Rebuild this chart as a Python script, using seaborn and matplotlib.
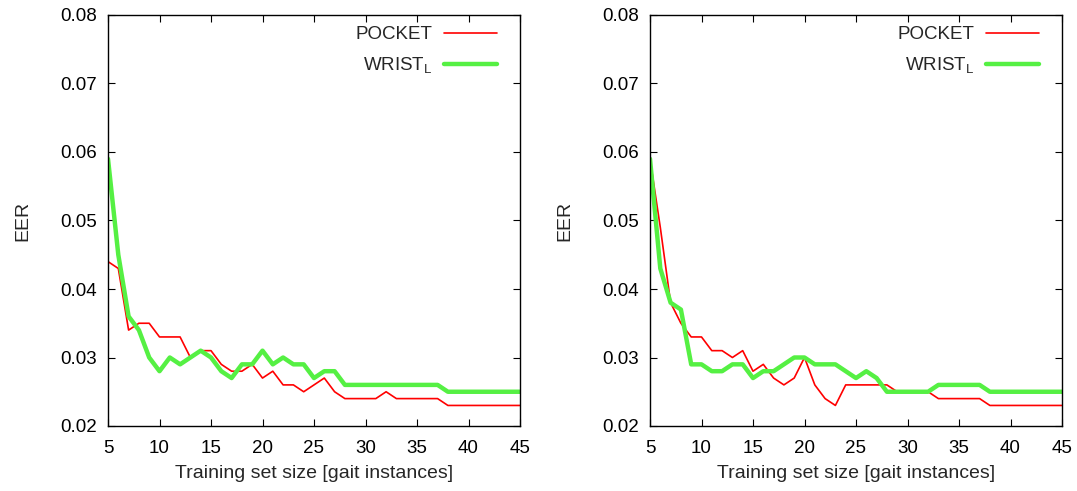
"""
EER vs training set size for POCKET and WRIST_L, two panels side by side
"""

import pandas as pd
import matplotlib.pyplot as plt
import seaborn as sns

# training set sizes
sizes = list(range(5, 46))

# left panel
pocket_left = [0.044, 0.043, 0.034, 0.035, 0.035, 0.033, 0.033, 0.033, 0.030, 0.031,
               0.031, 0.029, 0.028, 0.028, 0.029, 0.027, 0.028, 0.026, 0.026, 0.025,
               0.026, 0.027, 0.025, 0.024, 0.024, 0.024, 0.024, 0.025, 0.024, 0.024,
               0.024, 0.024, 0.024, 0.023, 0.023, 0.023, 0.023, 0.023, 0.023, 0.023,
               0.023]
wrist_left = [0.059, 0.045, 0.036, 0.034, 0.030, 0.028, 0.030, 0.029, 0.030, 0.031,
              0.030, 0.028, 0.027, 0.029, 0.029, 0.031, 0.029, 0.030, 0.029, 0.029,
              0.027, 0.028, 0.028, 0.026, 0.026, 0.026, 0.026, 0.026, 0.026, 0.026,
              0.026, 0.026, 0.026, 0.025, 0.025, 0.025, 0.025, 0.025, 0.025, 0.025,
              0.025]

# right panel
pocket_right = [0.059, 0.049, 0.038, 0.035, 0.033, 0.033, 0.031, 0.031, 0.030, 0.031,
                0.028, 0.029, 0.027, 0.026, 0.027, 0.030, 0.026, 0.024, 0.023, 0.026,
                0.026, 0.026, 0.026, 0.026, 0.025, 0.025, 0.025, 0.025, 0.024, 0.024,
                0.024, 0.024, 0.024, 0.023, 0.023, 0.023, 0.023, 0.023, 0.023, 0.023,
                0.023]
wrist_right = [0.059, 0.043, 0.038, 0.037, 0.029, 0.029, 0.028, 0.028, 0.029, 0.029,
               0.027, 0.028, 0.028, 0.029, 0.030, 0.030, 0.029, 0.029, 0.029, 0.028,
               0.027, 0.028, 0.027, 0.025, 0.025, 0.025, 0.025, 0.025, 0.026, 0.026,
               0.026, 0.026, 0.026, 0.025, 0.025, 0.025, 0.025, 0.025, 0.025, 0.025,
               0.025]

series = ['POCKET', r'WRIST$_\mathrm{L}$']
colors = {'POCKET': '#ff0000', r'WRIST$_\mathrm{L}$': '#55f043'}
widths = {'POCKET': 1.2, r'WRIST$_\mathrm{L}$': 3.2}

sns.set_style("ticks")
plt.rcParams['font.family'] = ['Liberation Sans', 'DejaVu Sans']
plt.rcParams['mathtext.fontset'] = 'custom'
plt.rcParams['mathtext.rm'] = 'Liberation Sans'
plt.rcParams['mathtext.it'] = 'Liberation Sans'

FS = 13.5

fig = plt.figure(figsize=(10.77, 4.91), dpi=100)
W, H = 1077, 491
ax_left = fig.add_axes([108 / W, (H - 426) / H, 412 / W, 411 / H])
ax_right = fig.add_axes([650 / W, (H - 426) / H, 412 / W, 411 / H])

for ax, pocket, wrist in [(ax_left, pocket_left, wrist_left),
                          (ax_right, pocket_right, wrist_right)]:
    df = pd.DataFrame({
        'size': sizes * 2,
        'EER': pocket + wrist,
        'sensor': [series[0]] * len(sizes) + [series[1]] * len(sizes),
    })
    for name in series:
        sns.lineplot(data=df[df['sensor'] == name], x='size', y='EER', ax=ax,
                     color=colors[name], linewidth=widths[name], label=name)
    ax.set_xlim(5, 45)
    ax.set_ylim(0.02, 0.08)
    ax.set_xticks(range(5, 46, 5))
    ax.set_yticks([0.02, 0.03, 0.04, 0.05, 0.06, 0.07, 0.08])
    ax.set_yticklabels(['0.02', '0.03', '0.04', '0.05', '0.06', '0.07', '0.08'])
    ax.tick_params(direction='in', top=True, right=True, length=5, width=0.8,
                   labelsize=FS, colors='black')
    ax.tick_params(axis='x', pad=10)
    ax.tick_params(axis='y', pad=8)
    ax.set_xlabel('Training set size [gait instances]', fontsize=14, labelpad=6)
    ax.set_ylabel('EER', fontsize=14, labelpad=21)
    for sp in ax.spines.values():
        sp.set_linewidth(1.0)
        sp.set_color('black')
    leg = ax.legend(loc='upper right', frameon=False, markerfirst=False,
                    fontsize=FS, handlelength=2.85, handletextpad=0.6,
                    borderaxespad=0, borderpad=0, labelspacing=0.65,
                    bbox_to_anchor=(1 - 23 / 412, 1 - 11 / 411))
    for t in leg.get_texts():
        t.set_ha('right')

fig.savefig('out.png', dpi=100)
